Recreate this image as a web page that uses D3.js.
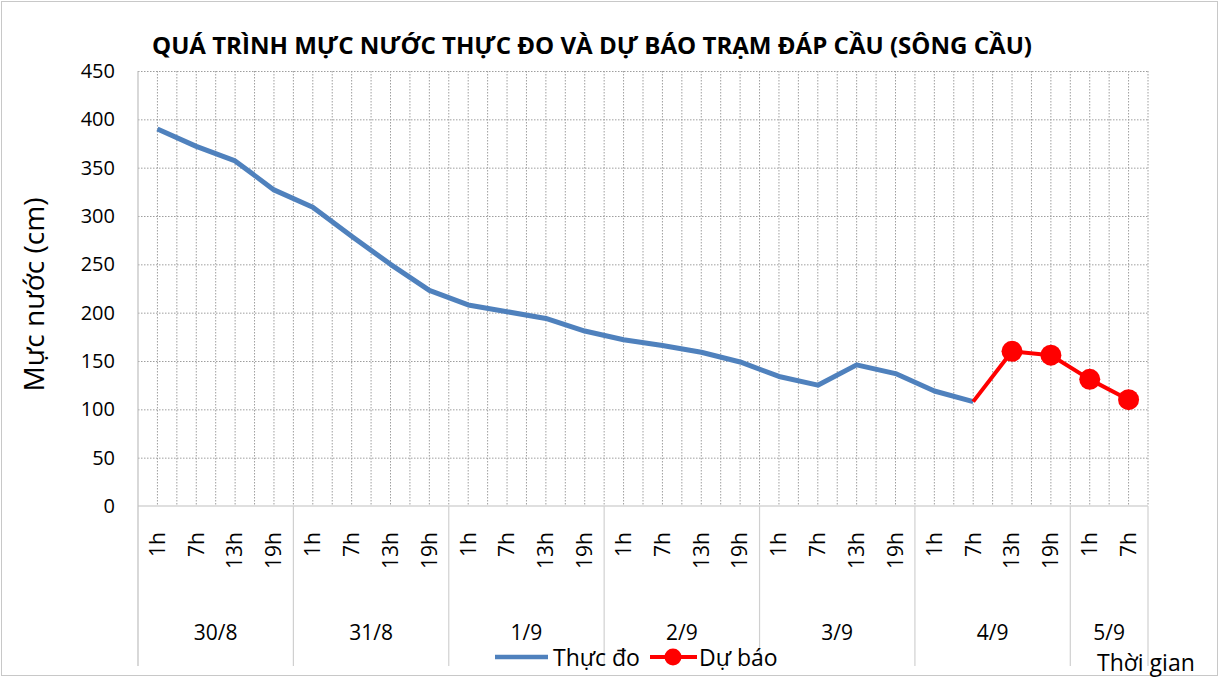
<!DOCTYPE html>
<html>
<head>
<meta charset="utf-8">
<script src="https://cdn.jsdelivr.net/npm/d3@7"></script>
<style>
  body { margin: 0; background: #fff; }
  text { font-family: "Open Sans", sans-serif; fill: #000; }
</style>
</head>
<body>
<div id="chart"></div>
<script>
// Data
const days = ["30/8", "31/8", "1/9", "2/9", "3/9", "4/9", "5/9"];
const dayHours = [
  ["1h", "7h", "13h", "19h"],
  ["1h", "7h", "13h", "19h"],
  ["1h", "7h", "13h", "19h"],
  ["1h", "7h", "13h", "19h"],
  ["1h", "7h", "13h", "19h"],
  ["1h", "7h", "13h", "19h"],
  ["1h", "7h"],
];
const measured = [390, 372, 357, 327, 309, 279, 250, 223, 208, 201, 194, 181,
                  172, 166, 159, 149, 134, 125, 146, 137, 119, 108];
const forecastCats = ["4/9 7h", "4/9 13h", "4/9 19h", "5/9 1h", "5/9 7h"];
const forecastValues = [108, 160, 156, 131, 110];
const yTicks = [0, 50, 100, 150, 200, 250, 300, 350, 400, 450];

const title = "QUÁ TRÌNH MỰC NƯỚC THỰC ĐO VÀ DỰ BÁO TRẠM ĐÁP CẦU (SÔNG CẦU)";

// categories
const categories = [];
days.forEach((d, i) => dayHours[i].forEach((h) => categories.push({ key: d + " " + h, day: d, hour: h })));
const keyAccessor = (d) => d.key;

// Dimensions
let dimensions = {
  width: 1222,
  height: 680,
  margin: { top: 71, bottom: 174, left: 138, right: 74 },
};
dimensions.containerWidth = dimensions.width - dimensions.margin.left - dimensions.margin.right;
dimensions.containerHeight = dimensions.height - dimensions.margin.top - dimensions.margin.bottom;

const svg = d3.select("#chart").append("svg")
  .attr("width", dimensions.width)
  .attr("height", dimensions.height);

// outer frame
svg.append("rect")
  .attr("x", 1.5).attr("y", 1.5)
  .attr("width", dimensions.width - 6).attr("height", dimensions.height - 6)
  .attr("fill", "#fff").attr("stroke", "#c8c8c8");

const container = svg.append("g")
  .attr("transform", `translate(${dimensions.margin.left}, ${dimensions.margin.top})`);

// Scales
const xScale = d3.scaleBand()
  .domain(categories.map(keyAccessor))
  .range([0, dimensions.containerWidth]);
const yScale = d3.scaleLinear()
  .domain([0, 450])
  .range([dimensions.containerHeight, 0]);
const bw = xScale.bandwidth();

// Grid - horizontal
container.append("g")
  .call(d3.axisLeft(yScale).tickValues(yTicks.slice(1)).tickSize(-dimensions.containerWidth).tickFormat(""))
  .call((g) => g.select(".domain").remove())
  .selectAll("line")
  .attr("stroke", "#9e9e9e")
  .attr("stroke-dasharray", "1.5,1.5");

// Grid - vertical (category edges and centres)
const vLines = [];
categories.forEach((c) => { vLines.push(xScale(c.key)); vLines.push(xScale(c.key) + bw / 2); });
vLines.push(dimensions.containerWidth);
container.append("g")
  .selectAll("line")
  .data(vLines.slice(1))
  .join("line")
  .attr("x1", (d) => d).attr("x2", (d) => d)
  .attr("y1", 0).attr("y2", dimensions.containerHeight)
  .attr("stroke", "#9e9e9e")
  .attr("stroke-dasharray", "1.5,1.5");

// Axis lines
container.append("line")
  .attr("x1", 0).attr("x2", 0).attr("y1", 0).attr("y2", dimensions.containerHeight + 160)
  .attr("stroke", "#bfbfbf").attr("stroke-width", 1.2);
container.append("line")
  .attr("x1", 0).attr("x2", dimensions.containerWidth)
  .attr("y1", dimensions.containerHeight).attr("y2", dimensions.containerHeight)
  .attr("stroke", "#bfbfbf").attr("stroke-width", 1.2);

// Day group separators
const dayEnds = days.map((d, i) => {
  const last = d + " " + dayHours[i][dayHours[i].length - 1];
  return xScale(last) + bw;
});
container.append("g")
  .selectAll("line")
  .data(dayEnds)
  .join("line")
  .attr("x1", (d) => d).attr("x2", (d) => d)
  .attr("y1", dimensions.containerHeight).attr("y2", dimensions.containerHeight + 160)
  .attr("stroke", "#d0d0d0").attr("stroke-width", 1.2);

// Y axis labels
const yAxisGroup = container.append("g")
  .call(d3.axisLeft(yScale).tickValues(yTicks).tickSize(0).tickPadding(23))
  .call((g) => g.select(".domain").remove());
yAxisGroup.selectAll("text")
  .style("font-family", "'Open Sans', sans-serif")
  .attr("font-size", 20)
  .attr("fill", "#000");

yAxisGroup.append("text")
  .attr("transform", "rotate(-90)")
  .attr("x", -dimensions.containerHeight / 2 - 6)
  .attr("y", -94)
  .attr("text-anchor", "middle")
  .style("font-family", "'Open Sans', sans-serif")
  .attr("font-size", 28)
  .attr("fill", "#000")
  .text("Mực nước (cm)");

// X axis hour labels
const xAxisGroup = container.append("g")
  .attr("transform", `translate(0, ${dimensions.containerHeight})`)
  .call(d3.axisBottom(xScale).tickSize(0).tickFormat((k) => categories.find((c) => c.key === k).hour))
  .call((g) => g.select(".domain").remove());
xAxisGroup.selectAll("text")
  .attr("transform", "rotate(-90)")
  .attr("text-anchor", "end")
  .attr("dy", "0.35em")
  .attr("x", -26)
  .attr("y", 0)
  .style("font-family", "'Open Sans', sans-serif")
  .attr("font-size", 21)
  .attr("fill", "#000");

// Day labels
container.append("g")
  .selectAll("text")
  .data(days)
  .join("text")
  .attr("x", (d, i) => (i === 0 ? 0 : dayEnds[i - 1]) / 2 + dayEnds[i] / 2)
  .attr("y", dimensions.containerHeight + 134)
  .attr("text-anchor", "middle")
  .style("font-family", "'Open Sans', sans-serif")
  .attr("font-size", 21)
  .text((d) => d);

// Lines
const lineGen = d3.line()
  .x((d) => xScale(d.key) + bw / 2)
  .y((d) => yScale(d.v));

const measuredPts = measured.map((v, i) => ({ key: categories[i].key, v }));
container.append("path")
  .datum(measuredPts)
  .attr("fill", "none")
  .attr("stroke", "#4f81bd")
  .attr("stroke-width", 5)
  .attr("stroke-linejoin", "round")
  .attr("d", lineGen);

const forecastPts = forecastValues.map((v, i) => ({ key: forecastCats[i], v }));
container.append("path")
  .datum(forecastPts)
  .attr("fill", "none")
  .attr("stroke", "#ff0000")
  .attr("stroke-width", 4)
  .attr("stroke-linejoin", "round")
  .attr("d", lineGen);

container.append("g")
  .selectAll("circle")
  .data(forecastPts.slice(1))
  .join("circle")
  .attr("cx", (d) => xScale(d.key) + bw / 2)
  .attr("cy", (d) => yScale(d.v))
  .attr("r", 10.5)
  .attr("fill", "#ff0000");

// Title
svg.append("text")
  .attr("x", 152)
  .attr("y", 54)
  .attr("font-size", 24)
  .attr("font-weight", "bold")
  .attr("textLength", 880)
  .attr("lengthAdjust", "spacingAndGlyphs")
  .text(title);

// Legend
const legend = svg.append("g").attr("transform", "translate(0, 657)");
legend.append("line")
  .attr("x1", 495).attr("x2", 548).attr("y1", 0).attr("y2", 0)
  .attr("stroke", "#4f81bd").attr("stroke-width", 4.5);
legend.append("text")
  .attr("x", 553).attr("y", 9)
  .attr("font-size", 23)
  .text("Thực đo");
legend.append("line")
  .attr("x1", 650).attr("x2", 697).attr("y1", 0).attr("y2", 0)
  .attr("stroke", "#ff0000").attr("stroke-width", 4);
legend.append("circle")
  .attr("cx", 673).attr("cy", 0).attr("r", 8.5)
  .attr("fill", "#ff0000");
legend.append("text")
  .attr("x", 699).attr("y", 9)
  .attr("font-size", 23)
  .text("Dự báo");

// X axis title
svg.append("text")
  .attr("x", 1097).attr("y", 671)
  .attr("font-size", 23)
  .text("Thời gian");
</script>
</body>
</html>
